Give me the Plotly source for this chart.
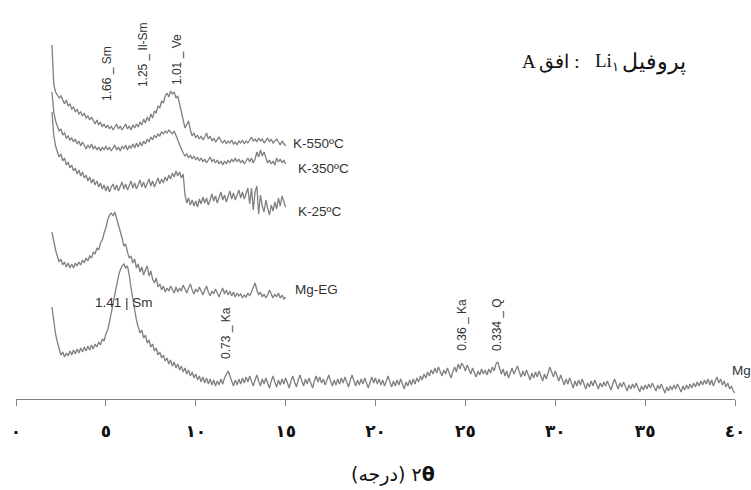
import numpy as np
import plotly.graph_objects as go

# ---------------- data (intensity, arbitrary units, stacked) ----------------
scan_start = 2.0   # degrees 2-theta
scan_step = 0.1

k550 = [355, 316, 308, 305, 302, 304, 299, 296, 300, 294,
        296, 291, 293, 288, 291, 286, 288, 284, 287, 282,
        284, 280, 283, 279, 276, 280, 275, 278, 273, 276,
        272, 275, 271, 274, 270, 273, 276, 271, 274, 270,
        273, 276, 271, 274, 270, 275, 272, 276, 273, 278,
        275, 281, 277, 283, 279, 286, 282, 289, 287, 294,
        292, 299, 297, 304, 307, 303, 309, 306, 308, 302,
        304, 295, 288, 280, 272, 276, 279, 270, 264, 267,
        262, 265, 261, 264, 260, 263, 267, 261, 264, 259,
        262, 258, 261, 263, 259, 257, 260, 256, 259, 257,
        260, 256, 258, 255, 259, 257, 260, 256, 259, 257,
        260, 263, 259, 261, 258, 262, 259, 261, 257, 260,
        262, 258, 261, 257, 259, 261, 258, 255, 259, 256,
        254]

k350 = [308, 288, 279, 273, 269, 271, 265, 267, 262, 264,
        260, 262, 258, 261, 256, 259, 254, 258, 255, 251,
        255, 252, 256, 251, 254, 250, 253, 249, 253, 250,
        254, 250, 253, 249, 252, 255, 250, 253, 249, 254,
        251, 255, 250, 254, 252, 256, 252, 257, 253, 258,
        254, 259, 256, 261, 258, 263, 260, 265, 262, 266,
        264, 268, 266, 269, 267, 270, 268, 266, 269, 264,
        261, 256, 251, 247, 244, 246, 242, 245, 241, 244,
        240, 243, 239, 242, 238, 241, 237, 240, 243, 238,
        241, 237, 240, 236, 239, 235, 239, 236, 240, 237,
        241, 238, 242, 238, 241, 237, 240, 236, 239, 242,
        238, 242, 237, 241, 248, 243, 250, 244, 248, 242,
        237, 240, 236, 239, 235, 242, 238, 241, 237, 240,
        236]

k25 = [288, 265, 254, 248, 243, 246, 239, 242, 235, 238,
       232, 235, 229, 232, 226, 230, 224, 228, 222, 225,
       219, 223, 217, 221, 215, 219, 213, 217, 211, 215,
       209, 214, 208, 213, 216, 210, 215, 209, 214, 218,
       211, 216, 210, 215, 219, 212, 217, 211, 216, 220,
       213, 218, 212, 217, 221, 214, 219, 213, 218, 222,
       216, 221, 217, 223, 219, 225, 221, 227, 223, 229,
       224, 228, 222, 226, 205, 197, 202, 195, 200, 194,
       199, 193, 201, 196, 203, 197, 202, 195, 200, 206,
       199, 204, 197, 202, 208, 200, 205, 198, 204, 209,
       201, 207, 200, 205, 210, 202, 208, 201, 207, 212,
       196, 212, 190, 208, 214, 186, 205, 194, 188, 200,
       192, 185, 195, 189, 198, 191, 202, 194, 204, 197,
       193]

mg_eg = [168, 158, 150, 144, 138, 141, 135, 138, 133, 137,
         132, 136, 132, 137, 134, 138, 135, 140, 137, 142,
         139, 144, 142, 148, 146, 152, 150, 157, 160, 167,
         172, 180, 185, 187, 184, 188, 182, 176, 168, 162,
         154, 156, 148, 142, 144, 137, 141, 132, 136, 128,
         133, 125, 130, 134, 124, 129, 121, 117, 122, 113,
         116, 110, 114, 108, 112, 109, 114, 110, 107, 113,
         108, 112, 109, 115, 111, 107, 112, 116, 110, 106,
         111, 108, 113, 109, 105, 110, 114, 108, 104, 109,
         106, 111, 107, 103, 108, 112, 106, 110, 105, 109,
         104, 108, 103, 107, 104, 106, 102, 105, 103, 107,
         104, 108, 113, 117, 110, 105, 108, 103, 106, 102,
         105, 110, 106, 102, 106, 103, 107, 102, 105, 101,
         103]

mg = [93, 78, 66, 58, 50, 45, 48, 43, 47, 44,
      49, 45, 50, 46, 51, 47, 52, 48, 53, 49,
      54, 50, 55, 51, 56, 53, 58, 55, 61, 59,
      66, 70, 78, 87, 97, 107, 116, 124, 130, 134,
      136, 132, 134, 125, 112, 100, 89, 80, 73, 67,
      70, 62, 65, 57, 60, 53, 56, 49, 52, 45,
      48, 42, 45, 39, 42, 36, 40, 34, 38, 32,
      36, 30, 34, 28, 32, 26, 30, 24, 28, 22,
      26, 20, 24, 18, 23, 17, 22, 16, 21, 15,
      20, 14, 19, 15, 21, 16, 22, 26, 29, 24,
      19, 14, 20, 15, 21, 16, 22, 17, 23, 18,
      24, 19, 14, 20, 25, 19, 14, 21, 16, 22,
      17, 12, 19, 24, 18, 13, 20, 15, 21, 16,
      22, 17, 12, 19, 24, 18, 13, 20, 25, 19,
      14, 21, 16, 22, 17, 12, 19, 24, 18, 23,
      17, 21, 15, 20, 25, 19, 14, 20, 15, 21,
      16, 22, 17, 23, 18, 13, 20, 25, 19, 14,
      20, 15, 21, 16, 22, 17, 12, 18, 23, 17,
      22, 16, 21, 15, 20, 14, 19, 24, 18, 13,
      19, 14, 20, 15, 21, 16, 11, 18, 14, 20,
      15, 21, 16, 22, 18, 24, 20, 26, 22, 28,
      24, 30, 26, 32, 27, 33, 29, 24, 30, 26,
      32, 27, 22, 28, 33, 28, 36, 31, 37, 34,
      29, 35, 30, 26, 32, 27, 23, 29, 25, 31,
      26, 30, 25, 31, 27, 33, 29, 36, 38, 32,
      26, 31, 24, 29, 22, 27, 32, 26, 30, 34,
      28, 23, 29, 24, 30, 25, 20, 27, 22, 28,
      23, 29, 24, 19, 26, 21, 27, 33, 28, 23,
      29, 24, 19, 25, 20, 15, 21, 16, 22, 17,
      12, 19, 14, 20, 15, 21, 16, 11, 17, 13,
      19, 14, 20, 16, 11, 17, 13, 18, 14, 19,
      15, 10, 16, 21, 16, 11, 17, 13, 18, 14,
      9, 15, 11, 16, 12, 17, 13, 8, 14, 10,
      15, 11, 16, 12, 17, 13, 9, 15, 11, 16,
      12, 7, 13, 9, 14, 10, 15, 11, 16, 12,
      8, 14, 10, 15, 11, 16, 12, 17, 13, 18,
      14, 19, 15, 20, 16, 21, 15, 20, 14, 19,
      23, 17, 21, 15, 19, 13, 17, 11, 14, 9,
      7]

series_names = ["K-550ºC", "K-350ºC", "K-25ºC", "Mg-EG", "Mg"]
series_values = [k550, k350, k25, mg_eg, mg]

x_tick_values = [0, 5, 10, 15, 20, 25, 30, 35, 40]
x_tick_labels = ["٠", "٥", "١٠", "١٥", "٢٠", "٢٥", "٣٠", "٣٥", "٤٠"]

peak_labels = ["1.66 _ Sm", "1.25 _ Il-Sm", "1.01 _ Ve", "0.73 _ Ka", "0.36 _ Ka", "0.334 _ Q"]
horizontal_peak_label = "1.41 | Sm"

# title pieces (placed separately so the mixed-direction text keeps its order)
title_left = "A افق :"
title_mid = "Li<sub>١</sub>"
title_right = "پروفیل"
x_title_text = "(درجه) ٢<b>θ</b>"

# ---------------- styling / layout ----------------
LINE = "#808080"
TXT = "#333333"
SANS = "Liberation Sans, Arial, sans-serif"
SERIF = "Liberation Serif, DejaVu Serif, serif"

fig = go.Figure()
for name, vals in zip(series_names, series_values):
    x = np.round(scan_start + scan_step * np.arange(len(vals)), 2)
    fig.add_trace(go.Scatter(x=x, y=vals, mode="lines", name=name,
                             line=dict(color=LINE, width=1.3), showlegend=False))

ann = []
series_label_pos = [(15.3, 257), (15.6, 232), (15.6, 189), (15.4, 111), (39.7, 30)]
for name, (lx, ly) in zip(series_names, series_label_pos):
    ann.append(dict(x=lx, y=ly, xref="x", yref="y", text=name, showarrow=False,
                    xanchor="left", yanchor="middle",
                    font=dict(family=SANS, size=13.5, color=TXT)))

peak_label_pos = [(5.06, 327), (7.07, 345), (8.96, 340), (11.68, 67), (24.8, 75), (26.76, 75)]
for t, (lx, ly) in zip(peak_labels, peak_label_pos):
    ann.append(dict(x=lx, y=ly, xref="x", yref="y", text=t, showarrow=False,
                    textangle=-90, xanchor="center", yanchor="middle",
                    font=dict(family=SANS, size=12, color=TXT)))

ann.append(dict(x=6.0, y=98, xref="x", yref="y", text=horizontal_peak_label, showarrow=False,
                xanchor="center", yanchor="middle",
                font=dict(family=SANS, size=13.5, color=TXT)))

title_y = 0.845
ann.append(dict(x=0.701, y=title_y, xref="paper", yref="paper", text=title_left, showarrow=False,
                xanchor="left", yanchor="middle",
                font=dict(family=SERIF, size=19, color="#111111")))
ann.append(dict(x=0.8025, y=title_y, xref="paper", yref="paper", text=title_mid, showarrow=False,
                xanchor="left", yanchor="middle",
                font=dict(family=SERIF, size=19, color="#111111")))
ann.append(dict(x=0.9346, y=title_y, xref="paper", yref="paper", text=title_right, showarrow=False,
                xanchor="right", yanchor="middle",
                font=dict(family=SERIF, size=22, color="#111111")))

ann.append(dict(x=0.524, y=-0.188, xref="paper", yref="paper", text=x_title_text, showarrow=False,
                xanchor="center", yanchor="middle",
                font=dict(family="DejaVu Sans, sans-serif", size=19, color="#111111")))

fig.update_layout(
    width=751, height=490,
    margin=dict(l=16, r=16, t=0, b=91),
    paper_bgcolor="white", plot_bgcolor="white",
    annotations=ann,
    xaxis=dict(range=[0, 40], tickvals=x_tick_values,
               ticktext=["<b>%s</b>" % t for t in x_tick_labels],
               showgrid=False, zeroline=False,
               showline=True, linecolor=LINE, linewidth=1.3,
               ticks="outside", ticklen=6, tickwidth=1.3, tickcolor=LINE,
               ticklabelstandoff=10,
               tickfont=dict(family="DejaVu Sans, sans-serif", size=17, color="#111111")),
    yaxis=dict(range=[1, 400], visible=False),
)

fig.write_html("out.html")
